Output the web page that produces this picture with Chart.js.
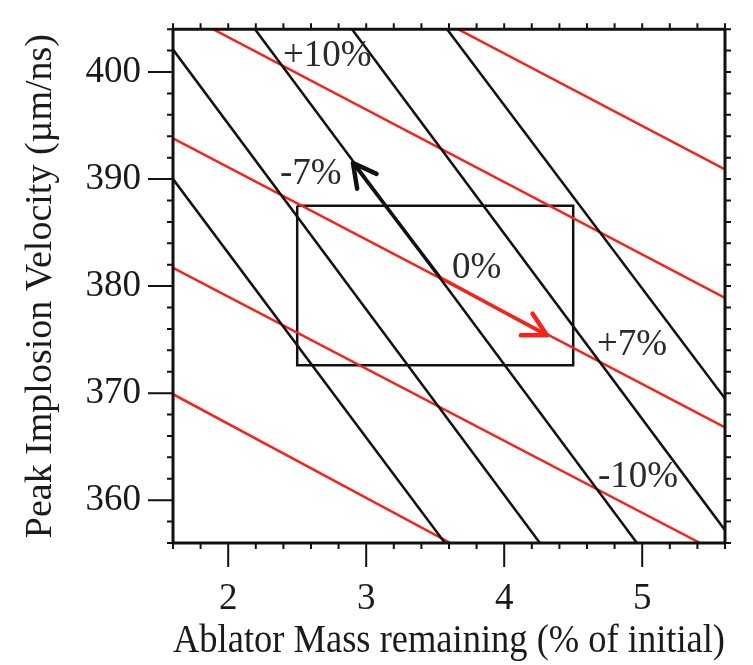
<!DOCTYPE html>
<html>
<head>
<meta charset="utf-8">
<script src="https://cdn.jsdelivr.net/npm/chart.js@4.4.0/dist/chart.umd.min.js"></script>
<style>
  body { margin: 0; background: #fff; }
</style>
</head>
<body>
<canvas id="grafico" width="753" height="665"></canvas>
<script>
// tick labels
const xTicks = [2, 3, 4, 5];
const yTicks = [360, 370, 380, 390, 400];

// black contours (x and y at each end)
const blackX = [[1.6, 3.571], [1.6, 4.259], [2.194, 4.962], [2.897, 5.6], [3.586, 5.6]];
const blackY = [[390.0, 356], [402.1, 356], [404, 356], [404, 357.2], [404, 369.5]];

// red contours
const redX = [[3.665, 5.6], [1.89, 5.6], [1.6, 5.6], [1.6, 5.42], [1.6, 3.61]];
const redY = [[404, 390.9], [404, 378.9], [393.8, 366.8], [381.7, 356], [369.9, 356]];

// box around the nominal point
const boxX = [2.5, 4.5, 4.5, 2.5, 2.5];
const boxY = [387.5, 387.5, 372.6, 372.6, 387.5];

// arrows: from nominal point to tip
const arrowBlackX = [3.535, 2.904];
const arrowBlackY = [380.8, 391.5];
const arrowRedX = [3.535, 4.31];
const arrowRedY = [380.8, 375.4];

// contour labels
const noteText = ['+10%', '-7%', '0%', '+7%', '-10%'];
const noteX = [2.397, 2.375, 3.622, 4.672, 4.68];
const noteY = [401.5, 390.4, 381.7, 374.5, 362.1];

const toPts = (xs, ys) => xs.map((v, i) => ({ x: v, y: ys[i] }));
const serif = '"Liberation Serif", "Times New Roman", serif';
const red = '#f5231a';

const datasets = [];
blackX.forEach((xs, i) => datasets.push({
  data: toPts(xs, blackY[i]), showLine: true, borderColor: '#111', borderWidth: 2.5, pointRadius: 0
}));
redX.forEach((xs, i) => datasets.push({
  data: toPts(xs, redY[i]), showLine: true, borderColor: red, borderWidth: 2.5, pointRadius: 0
}));
datasets.push({ data: toPts(boxX, boxY), showLine: true, borderColor: '#111', borderWidth: 2.5, pointRadius: 0 });
datasets.push({ data: toPts(arrowBlackX, arrowBlackY), showLine: true, borderColor: '#111', borderWidth: 3.5, pointRadius: 0, arrow: true });
datasets.push({ data: toPts(arrowRedX, arrowRedY), showLine: true, borderColor: red, borderWidth: 3.5, pointRadius: 0, arrow: true });

const extras = {
  id: 'extras',
  afterDraw(chart) {
    const { ctx, chartArea: a, scales: { x, y } } = chart;
    ctx.save();

    // arrow heads
    chart.data.datasets.forEach(ds => {
      if (!ds.arrow) return;
      const p0 = ds.data[0], p1 = ds.data[ds.data.length - 1];
      const tx = x.getPixelForValue(p1.x), ty = y.getPixelForValue(p1.y);
      const back = Math.atan2(y.getPixelForValue(p0.y) - ty, x.getPixelForValue(p0.x) - tx);
      const len = 26, half = 28 * Math.PI / 180;
      ctx.strokeStyle = ds.borderColor;
      ctx.lineWidth = 4.5;
      ctx.lineCap = 'round';
      ctx.lineJoin = 'round';
      ctx.beginPath();
      ctx.moveTo(tx + len * Math.cos(back + half), ty + len * Math.sin(back + half));
      ctx.lineTo(tx, ty);
      ctx.lineTo(tx + len * Math.cos(back - half), ty + len * Math.sin(back - half));
      ctx.stroke();
    });

    // labels
    ctx.fillStyle = '#2a2a2a';
    ctx.font = '37px ' + serif;
    ctx.textAlign = 'left';
    ctx.textBaseline = 'middle';
    noteText.forEach((t, i) => ctx.fillText(t, x.getPixelForValue(noteX[i]), y.getPixelForValue(noteY[i])));

    // frame
    ctx.strokeStyle = '#111';
    ctx.lineCap = 'butt';
    ctx.lineWidth = 3;
    ctx.strokeRect(a.left, a.top, a.right - a.left, a.bottom - a.top);

    // ticks
    ctx.lineWidth = 2;
    ctx.beginPath();
    for (let v = 1.6; v <= 5.6001; v += 0.2) {
      const px = x.getPixelForValue(v);
      const major = xTicks.some(t => Math.abs(t - v) < 1e-6);
      ctx.moveTo(px, a.bottom); ctx.lineTo(px, a.bottom + (major ? 24 : 6));
      ctx.moveTo(px, a.top); ctx.lineTo(px, a.top - 6);
    }
    for (let v = 356; v <= 404.001; v += 2) {
      const py = y.getPixelForValue(v);
      const major = yTicks.some(t => Math.abs(t - v) < 1e-6);
      ctx.moveTo(a.left, py); ctx.lineTo(a.left - (major ? 25 : 6), py);
      ctx.moveTo(a.right, py); ctx.lineTo(a.right + 6, py);
    }
    ctx.stroke();
    ctx.restore();
  }
};

new Chart(document.getElementById('grafico'), {
  type: 'scatter',
  data: { datasets },
  options: {
    responsive: false,
    animation: false,
    layout: { padding: { top: 9, right: 28, left: 0, bottom: 0 } },
    plugins: { legend: { display: false }, tooltip: { enabled: false } },
    scales: {
      x: {
        type: 'linear', min: 1.6, max: 5.6,
        afterBuildTicks: s => { s.ticks = xTicks.map(v => ({ value: v })); },
        afterFit: s => { s.height = 122; },
        ticks: { autoSkip: false, maxRotation: 0, padding: 10, color: '#1a1a1a', font: { family: serif, size: 37 } },
        grid: { drawOnChartArea: false, color: 'rgba(0,0,0,0)', tickLength: 24 },
        border: { display: false },
        title: { display: true, text: 'Ablator Mass remaining (% of initial)', color: '#1a1a1a',
                 font: { family: serif, size: 39 }, padding: { top: 0, bottom: 0 } }
      },
      y: {
        type: 'linear', min: 356, max: 404,
        afterBuildTicks: s => { s.ticks = yTicks.map(v => ({ value: v })); },
        afterFit: s => { s.width = 173; },
        ticks: { autoSkip: false, padding: 7, color: '#1a1a1a', font: { family: serif, size: 37 } },
        grid: { drawOnChartArea: false, color: 'rgba(0,0,0,0)', tickLength: 25 },
        border: { display: false },
        title: { display: true, text: 'Peak Implosion Velocity (µm/ns)', color: '#1a1a1a',
                 font: { family: serif, size: 38 }, padding: { top: 18, bottom: 0 } }
      }
    }
  },
  plugins: [extras]
});
</script>
</body>
</html>
